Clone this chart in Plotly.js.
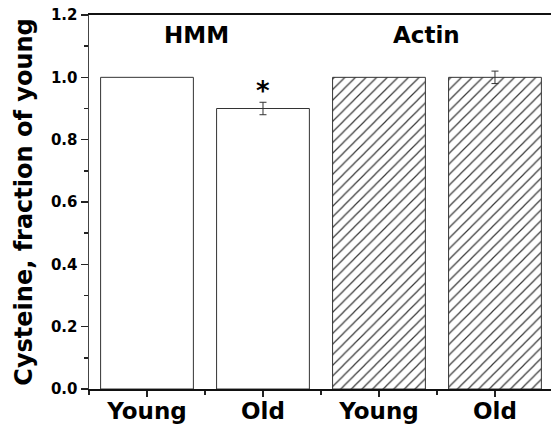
<!DOCTYPE html>
<html>
<head>
<meta charset="utf-8">
<script src="https://cdn.plot.ly/plotly-3.0.1.min.js"></script>
<style>html,body{margin:0;padding:0;background:#fff;}#chart{width:551px;height:426px;}</style>
</head>
<body>
<div id="chart"></div>
<script>
const categories = ["Young", "Old", "Young", "Old"];
const groups = ["HMM", "Actin"];
const values = [1.0, 0.90, 1.0, 1.0];
const errors = [0, 0.02, 0, 0.02];
const hatched = [false, false, true, true];
const starred = [false, true, false, false];
const yTickVals = [0, 0.2, 0.4, 0.6, 0.8, 1.0, 1.2];
const yTickText = ["0.0", "0.2", "0.4", "0.6", "0.8", "1.0", "1.2"];
const yTitle = "Cysteine, fraction of young";

const xs = categories.map((_, i) => i);
const font = "DejaVu Sans, sans-serif";

const barTrace = {
  type: "bar",
  x: xs,
  y: values,
  width: 0.8,
  marker: {
    color: "#ffffff",
    line: {color: "#333333", width: 1},
    pattern: {
      shape: hatched.map(h => h ? "/" : ""),
      fgcolor: "#3a3a3a",
      bgcolor: "#ffffff",
      size: 7.5,
      solidity: 0.16
    }
  },
  hoverinfo: "skip",
  showlegend: false
};

const errIdx = xs.filter(i => errors[i] > 0);
const errTrace = {
  type: "scatter",
  mode: "markers",
  x: errIdx,
  y: errIdx.map(i => values[i]),
  marker: {size: 0.1, color: "rgba(0,0,0,0)"},
  error_y: {type: "data", array: errIdx.map(i => errors[i]), visible: true, color: "#333333", thickness: 1, width: 3.5},
  hoverinfo: "skip",
  showlegend: false
};

const annotations = [
  {x: 0.43, y: 1.136, xref: "x", yref: "y", text: "<b>" + groups[0] + "</b>", showarrow: false,
   font: {family: font, size: 23, color: "#000"}},
  {x: 2.41, y: 1.136, xref: "x", yref: "y", text: "<b>" + groups[1] + "</b>", showarrow: false,
   font: {family: font, size: 23, color: "#000"}}
];
xs.forEach(i => {
  if (starred[i]) {
    annotations.push({x: i, y: values[i] + errors[i], xref: "x", yref: "y", yanchor: "bottom", yshift: -6,
      text: "<b>*</b>", showarrow: false, font: {family: font, size: 26, color: "#000"}});
  }
});

const layout = {
  width: 551,
  height: 426,
  margin: {l: 89, r: 0, t: 15, b: 37},
  paper_bgcolor: "#fff",
  plot_bgcolor: "#fff",
  font: {family: font, color: "#000"},
  xaxis: {
    range: [-0.5, 3.483],
    tickvals: xs,
    ticktext: categories.map(c => "<b>" + c + "</b>"),
    tickfont: {family: font, size: 23, color: "#000"},
    ticks: "outside",
    ticklen: 6,
    tickwidth: 1.5,
    tickcolor: "#222",
    ticklabelstandoff: -6,
    minor: {tickvals: [-0.5, 0.5, 1.5, 2.5], ticks: "outside", ticklen: 4, tickwidth: 1.5, tickcolor: "#222"},
    showline: true,
    linecolor: "#111",
    linewidth: 2,
    mirror: true,
    showgrid: false,
    zeroline: false,
    fixedrange: true
  },
  yaxis: {
    range: [0, 1.2],
    tickvals: yTickVals,
    ticktext: yTickText.map(t => "<b>" + t + "</b>"),
    tickfont: {family: font, size: 15, color: "#000"},
    ticks: "outside",
    ticklen: 7,
    tickwidth: 1.5,
    tickcolor: "#222",
    minor: {tickvals: [0.1, 0.3, 0.5, 0.7, 0.9, 1.1], ticks: "outside", ticklen: 4, tickwidth: 1.5, tickcolor: "#222"},
    showline: true,
    linecolor: "#444",
    linewidth: 1.5,
    showgrid: false,
    zeroline: false,
    title: {text: "<b>" + yTitle + "</b>", font: {family: font, size: 24, color: "#000"}, standoff: 11},
    fixedrange: true
  },
  annotations: annotations,
  showlegend: false
};

Plotly.newPlot("chart", [barTrace, errTrace], layout, {displayModeBar: false, staticPlot: true});
</script>
</body>
</html>
